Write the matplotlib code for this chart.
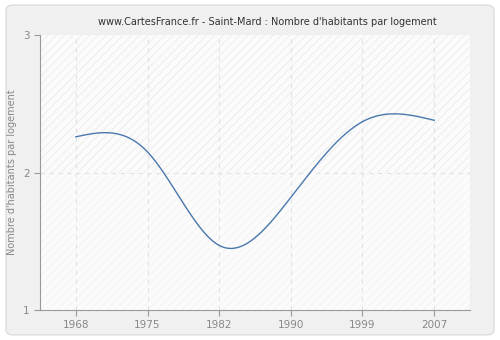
import numpy as np
import matplotlib
matplotlib.use("Agg")
import matplotlib.pyplot as plt
from matplotlib.patches import FancyBboxPatch, Rectangle

years = ["1968", "1975", "1982", "1990", "1999", "2007"]
values = [2.26, 2.15, 1.47, 1.82, 2.37, 2.38]
yticks = [1, 2, 3]
title = "www.CartesFrance.fr - Saint-Mard : Nombre d'habitants par logement"
ylabel = "Nombre d'habitants par logement"


def natural_spline(x, y, n=400):
    x = np.asarray(x, float); y = np.asarray(y, float)
    k = len(x); h = np.diff(x)
    A = np.zeros((k, k)); b = np.zeros(k)
    A[0, 0] = A[-1, -1] = 1
    for i in range(1, k - 1):
        A[i, i - 1] = h[i - 1]; A[i, i] = 2 * (h[i - 1] + h[i]); A[i, i + 1] = h[i]
        b[i] = 3 * ((y[i + 1] - y[i]) / h[i] - (y[i] - y[i - 1]) / h[i - 1])
    c = np.linalg.solve(A, b)
    xs = np.linspace(x[0], x[-1], n); ys = np.empty_like(xs)
    for j, xv in enumerate(xs):
        i = min(np.searchsorted(x, xv, side="right") - 1, k - 2)
        d = xv - x[i]
        bb = (y[i + 1] - y[i]) / h[i] - h[i] * (2 * c[i] + c[i + 1]) / 3
        dd = (c[i + 1] - c[i]) / (3 * h[i])
        ys[j] = y[i] + bb * d + c[i] * d ** 2 + dd * d ** 3
    return xs, ys


fig = plt.figure(figsize=(5, 3.4), dpi=100)
fig.patch.set_facecolor("white")
frame = FancyBboxPatch((0.012, 0.015), 0.976, 0.97, boxstyle="round,pad=0,rounding_size=0.015",
                       transform=fig.transFigure, facecolor="#f0f0f0", edgecolor="#dddddd", lw=1,
                       zorder=-10)
fig.patches.append(frame)

ax = fig.add_axes([0.08, 0.088, 0.86, 0.809])
ax.set_facecolor("#fafafa")
idx = np.arange(len(years))
ax.set_xlim(-0.5, len(years) - 0.5)
ax.set_ylim(1, 3)

plt.rcParams["hatch.linewidth"] = 0.5
ax.add_patch(Rectangle((-0.5, 2), len(years), 1, facecolor="#fbfbfb", edgecolor="#e8e8e8",
                       hatch="////", lw=0, zorder=0))
ax.add_patch(Rectangle((-0.5, 1), len(years), 1, facecolor="#fbfbfb", edgecolor="#f2f2f2",
                       hatch="////", lw=0, zorder=0))

for xi in idx:
    ax.axvline(xi, color="#e2e2e2", lw=0.8, ls=(0, (4, 4)), zorder=1)
ax.axhline(2, color="#e2e2e2", lw=0.8, ls=(0, (4, 4)), zorder=1)

xs, ys = natural_spline(idx, values)
ax.plot(xs, ys, color="#4a78ad", lw=1.0, zorder=3)

ax.set_xticks(idx)
ax.set_xticklabels(years)
ax.set_yticks(yticks)
ax.tick_params(colors="#999999", labelcolor="#888888", labelsize=7.5, length=4, width=0.8)
for s in ["top", "right"]:
    ax.spines[s].set_visible(False)
for s in ["left", "bottom"]:
    ax.spines[s].set_color("#999999")
    ax.spines[s].set_linewidth(0.8)
ax.set_ylabel(ylabel, color="#888888", fontsize=7)
fig.text(0.535, 0.935, title, ha="center", va="center", fontsize=7, color="#333333")

fig.savefig("out.png", dpi=100, facecolor=fig.get_facecolor())
